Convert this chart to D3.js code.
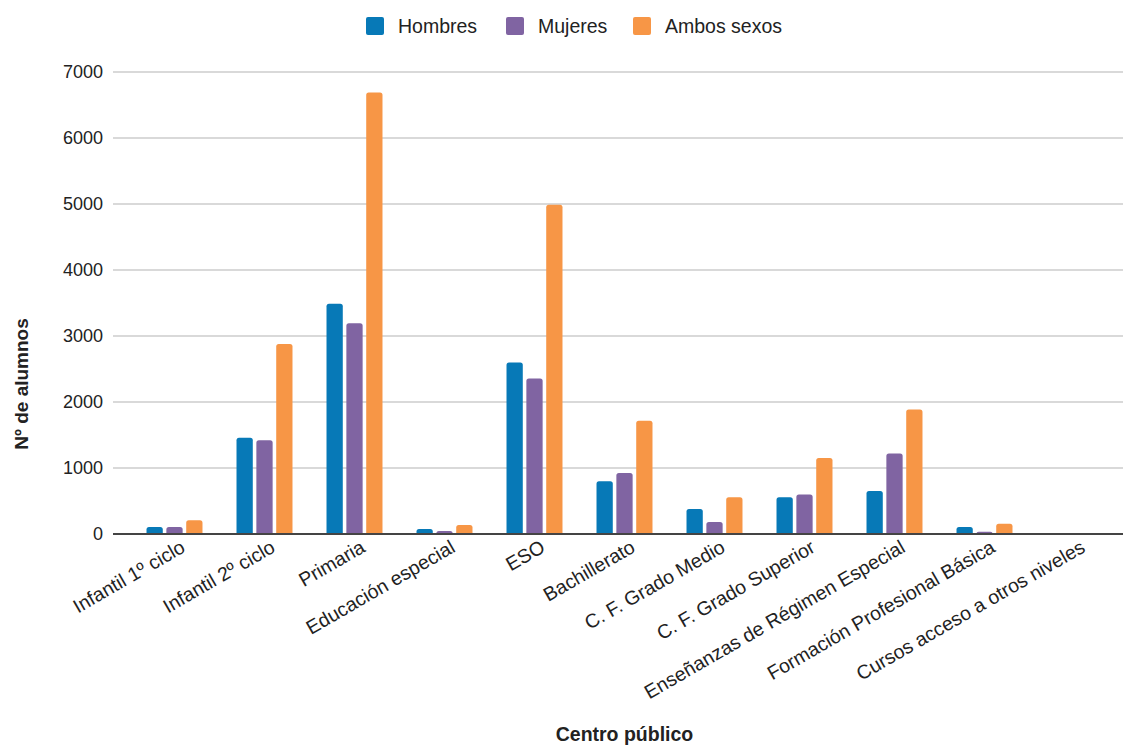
<!DOCTYPE html>
<html>
<head>
<meta charset="utf-8">
<script src="https://cdn.jsdelivr.net/npm/d3@7"></script>
<style>
  html, body { margin: 0; padding: 0; background: #fff; }
  svg { display: block; font-family: "Liberation Sans", Arial, sans-serif; }
</style>
</head>
<body>
<svg id="chart" width="1123" height="748"></svg>
<script>
const categories = [
  "Infantil 1º ciclo", "Infantil 2º ciclo", "Primaria", "Educación especial", "ESO",
  "Bachillerato", "C. F. Grado Medio", "C. F. Grado Superior",
  "Enseñanzas de Régimen Especial", "Formación Profesional Básica",
  "Cursos acceso a otros niveles"
];
const seriesNames = ["Hombres", "Mujeres", "Ambos sexos"];
const hombres    = [105, 1460, 3490, 75, 2600, 800, 380, 555, 650, 105, 0];
const mujeres    = [105, 1420, 3195, 45, 2355, 925, 180, 600, 1220, 35, 0];
const ambosSexos = [210, 2880, 6690, 135, 4990, 1715, 555, 1150, 1885, 155, 0];
const yTicks = [0, 1000, 2000, 3000, 4000, 5000, 6000, 7000];
const colors = ["#0779b7", "#8064a2", "#f79646"];
const xTitle = "Centro público";
const yTitle = "Nº de alumnos";

const seriesValues = [hombres, mujeres, ambosSexos];

const svg = d3.select("#chart");
const plotLeft = 113, plotRight = 1123, plotTop = 72, plotBottom = 534;

const x0 = d3.scaleBand().domain(categories).range([129.5, 1119.5])
  .paddingInner(0.378).paddingOuter(0.189);
const x1 = d3.scaleBand().domain(seriesNames).range([0, x0.bandwidth()]).paddingInner(0.18);
const y = d3.scaleLinear().domain([0, 7000]).range([plotBottom, plotTop]);

// gridlines
svg.append("g").selectAll("line").data(yTicks.filter(d => d !== 0)).join("line")
  .attr("x1", plotLeft).attr("x2", plotRight)
  .attr("y1", d => y(d)).attr("y2", d => y(d))
  .attr("stroke", "#cccccc").attr("stroke-width", 1.3);

// y tick labels
svg.append("g").selectAll("text").data(yTicks).join("text")
  .attr("x", 103).attr("y", d => y(d)).attr("dy", "0.35em")
  .attr("text-anchor", "end").attr("font-size", 18).attr("fill", "#222")
  .text(d => d);

// bars
function barPath(xp, w, yTop, yBase, r) {
  const h = yBase - yTop;
  if (h <= 0) return "";
  const rr = Math.min(r, h, w / 2);
  return `M${xp},${yBase}V${yTop + rr}Q${xp},${yTop} ${xp + rr},${yTop}H${xp + w - rr}Q${xp + w},${yTop} ${xp + w},${yTop + rr}V${yBase}Z`;
}
const groups = svg.append("g").selectAll("g").data(categories).join("g")
  .attr("transform", d => `translate(${x0(d)},0)`);
groups.selectAll("path").data((c, i) => seriesNames.map((s, j) => ({ s, j, v: seriesValues[j][i] })))
  .join("path")
  .attr("d", d => barPath(x1(d.s), x1.bandwidth(), y(d.v), y(0), 2.5))
  .attr("fill", d => colors[d.j]);

// baseline
svg.append("line").attr("x1", plotLeft).attr("x2", plotRight)
  .attr("y1", y(0)).attr("y2", y(0)).attr("stroke", "#444").attr("stroke-width", 2);

// x tick labels
svg.append("g").selectAll("text").data(categories).join("text")
  .attr("transform", d => `translate(${x0(d) + x0.bandwidth() / 2 + 12},${y(0) + 17}) rotate(-30)`)
  .attr("text-anchor", "end").attr("font-size", 19.5).attr("fill", "#222")
  .text(d => d);

// axis titles
svg.append("text").attr("x", x0.range()[0] + (x0.range()[1] - x0.range()[0]) / 2).attr("y", 741)
  .attr("text-anchor", "middle").attr("font-size", 19.5).attr("font-weight", "bold").attr("fill", "#222")
  .text(xTitle);
svg.append("text").attr("transform", "translate(28,384) rotate(-90)")
  .attr("text-anchor", "middle").attr("font-size", 19).attr("font-weight", "bold").attr("fill", "#222")
  .text(yTitle);

// legend
const legendX = [366, 506, 633];
const lg = svg.append("g").selectAll("g").data(seriesNames).join("g")
  .attr("transform", (d, i) => `translate(${legendX[i]},17)`);
lg.append("rect").attr("width", 18).attr("height", 18).attr("rx", 2)
  .attr("fill", (d, i) => colors[i]);
lg.append("text").attr("x", 32).attr("y", 9).attr("dy", "0.35em")
  .attr("font-size", 19.5).attr("fill", "#222").text(d => d);
</script>
</body>
</html>
